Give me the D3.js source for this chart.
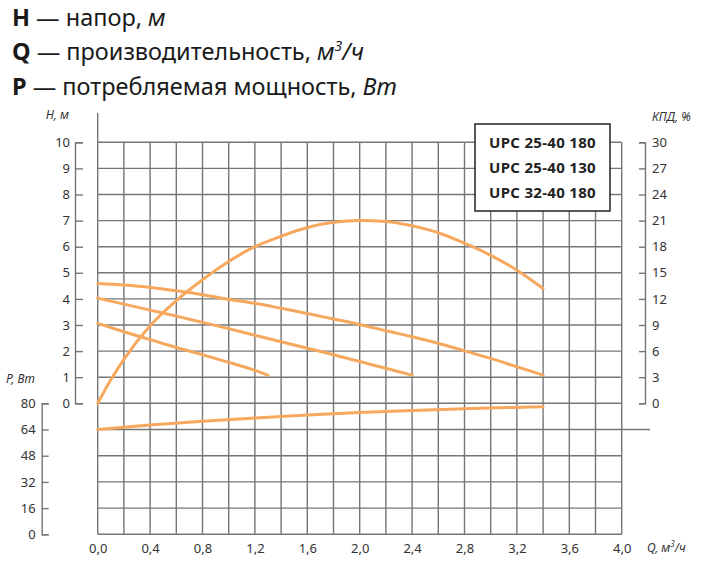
<!DOCTYPE html>
<html>
<head>
<meta charset="utf-8">
<script src="https://cdn.jsdelivr.net/npm/d3@7"></script>
<style>
  body { margin: 0; background: #fff; }
  svg { display: block; font-family: "Noto Sans", sans-serif; }
</style>
</head>
<body>
<script>
// --- data ---
var models = ["UPC 25-40 180", "UPC 25-40 130", "UPC 32-40 180"];

// head H, м  (three speeds)
var headQ1 = [0, 0.2, 0.4, 0.6, 0.8, 1.0, 1.2, 1.4, 1.6, 1.8, 2.0, 2.2, 2.4, 2.6, 2.8, 3.0, 3.2, 3.4];
var headH1 = [4.59, 4.53, 4.44, 4.31, 4.16, 3.98, 3.83, 3.64, 3.44, 3.23, 3.02, 2.78, 2.55, 2.30, 2.01, 1.72, 1.40, 1.08];
var headQ2 = [0, 0.2, 0.4, 0.6, 0.8, 1.0, 1.2, 1.4, 1.6, 1.8, 2.0, 2.2, 2.4];
var headH2 = [4.03, 3.80, 3.57, 3.34, 3.10, 2.86, 2.61, 2.36, 2.11, 1.86, 1.60, 1.34, 1.08];
var headQ3 = [0, 0.2, 0.4, 0.6, 0.8, 1.0, 1.2, 1.3];
var headH3 = [3.06, 2.74, 2.44, 2.14, 1.86, 1.57, 1.26, 1.08];

// efficiency КПД, %
var effQ = [0, 0.1, 0.2, 0.4, 0.6, 0.8, 1.0, 1.2, 1.4, 1.6, 1.8, 2.0, 2.2, 2.4, 2.6, 2.8, 3.0, 3.2, 3.4];
var effK = [0, 2.7, 5.05, 8.9, 11.8, 14.2, 16.3, 18.0, 19.2, 20.2, 20.8, 21.0, 20.9, 20.4, 19.6, 18.4, 17.0, 15.3, 13.2];

// power P, Вт
var powQ = [0, 0.4, 0.8, 1.2, 1.6, 2.0, 2.4, 2.8, 3.2, 3.4];
var powP = [64, 66.8, 69.0, 71.0, 72.9, 74.4, 75.6, 76.7, 77.5, 77.9];

var qTicks = d3.range(0, 4.01, 0.4);
var hTicks = d3.range(0, 11);
var pTicks = [0, 16, 32, 48, 64, 80];
var kTicks = [0, 3, 6, 9, 12, 15, 18, 21, 24, 27, 30];

var W = 706, H = 570;
var orange = "#f6a95e", grid = "#767676", ink = "#222";

var svg = d3.select("body").append("svg")
  .attr("width", W)
  .attr("height", H);

var x = d3.scaleLinear().domain([0, 4]).range([97.7, 621.7]);
var yH = d3.scaleLinear().domain([0, 10]).range([403.3, 142.3]);
var yP = d3.scaleLinear().domain([0, 80]).range([534.3, 403.3]);
var yK = d3.scaleLinear().domain([0, 30]).range([403.3, 142.3]);

var comma = d3.formatLocale({ decimal: ",", thousands: " ", grouping: [3], currency: ["", ""] });

// header
var head = svg.append("g").attr("fill", "#1a1a1a").style("font-size", "23.5px");
var l1 = head.append("text").attr("x", 12).attr("y", 25.5);
l1.append("tspan").attr("font-weight", "bold").text("H");
l1.append("tspan").text(" — напор, ");
l1.append("tspan").attr("font-style", "italic").text("м");

var l2 = head.append("text").attr("x", 12).attr("y", 60);
l2.append("tspan").attr("font-weight", "bold").text("Q");
l2.append("tspan").text(" — производительность, ");
l2.append("tspan").attr("font-style", "italic").text("м");
l2.append("tspan").attr("font-style", "italic").attr("dy", -9).style("font-size", "14px").text("3");
l2.append("tspan").attr("font-style", "italic").attr("dy", 9).text("/ч");

var l3 = head.append("text").attr("x", 12).attr("y", 95);
l3.append("tspan").attr("font-weight", "bold").text("P");
l3.append("tspan").text(" — потребляемая мощность, ");
l3.append("tspan").attr("font-style", "italic").text("Вт");

// grid
var gridG = svg.append("g").attr("stroke", grid).attr("stroke-width", 1.4);
var rowVals = hTicks.map(function (d) { return yH(d); })
  .concat(pTicks.slice(0, 5).map(function (d) { return yP(d); }));
gridG.selectAll("line.h").data(rowVals).enter().append("line")
  .attr("x1", x(0)).attr("x2", function (d, i) { return i === rowVals.length - 1 ? 650 : x(4); })
  .attr("y1", function (d) { return d; }).attr("y2", function (d) { return d; });
gridG.selectAll("line.v").data(d3.range(0, 21).map(function (i) { return i * 0.2; })).enter().append("line")
  .attr("x1", function (d) { return x(d); }).attr("x2", function (d) { return x(d); })
  .attr("y1", function (d, i) { return i === 0 ? 113 : yH(10); })
  .attr("y2", yP(0));

// axes
function styleAxis(g) {
  g.selectAll("path, line").attr("stroke", grid).attr("stroke-width", 1.4);
  g.selectAll("text").attr("fill", "#333").style("font-size", "13px").style("font-family", "Noto Sans, sans-serif");
}

svg.append("g").attr("transform", "translate(75,0)")
  .call(d3.axisLeft(yH).tickValues(hTicks).tickSize(-8).tickSizeOuter(-8).tickPadding(5).tickFormat(d3.format("d")))
  .call(styleAxis);

svg.append("g").attr("transform", "translate(41.7,0)")
  .call(d3.axisLeft(yP).tickValues(pTicks).tickSize(-7).tickSizeOuter(-7).tickPadding(6).tickFormat(d3.format("d")))
  .call(styleAxis);

svg.append("g").attr("transform", "translate(645,0)")
  .call(d3.axisRight(yK).tickValues(kTicks).tickSize(-6).tickSizeOuter(-6).tickPadding(7).tickFormat(d3.format("d")))
  .call(styleAxis);

var xAx = svg.append("g").attr("transform", "translate(0," + yP(0) + ")")
  .call(d3.axisBottom(x).tickValues(qTicks).tickSize(0).tickPadding(9).tickFormat(comma.format(".1f")))
  .call(styleAxis);
xAx.select(".domain").remove();

// axis titles
var ttl = svg.append("g").attr("fill", "#333").attr("font-style", "italic").style("font-size", "12px");
ttl.append("text").attr("x", 69).attr("y", 119).attr("text-anchor", "end").text("H, м");
ttl.append("text").attr("x", 6).attr("y", 383).text("P, Вт");
ttl.append("text").attr("x", 652).attr("y", 121).text("КПД, %");
var qt = ttl.append("text").attr("x", 647).attr("y", 552);
qt.append("tspan").text("Q, м");
qt.append("tspan").attr("dy", -5).style("font-size", "8px").text("3");
qt.append("tspan").attr("dy", 5).text("/ч");

// curves
var lineH = d3.line().x(function (d) { return x(d[0]); }).y(function (d) { return yH(d[1]); }).curve(d3.curveMonotoneX);
var lineK = d3.line().x(function (d) { return x(d[0]); }).y(function (d) { return yK(d[1]); }).curve(d3.curveMonotoneX);
var lineP = d3.line().x(function (d) { return x(d[0]); }).y(function (d) { return yP(d[1]); }).curve(d3.curveMonotoneX);

var curves = svg.append("g").attr("fill", "none").attr("stroke", orange)
  .attr("stroke-width", 3).attr("stroke-linecap", "round");
[[headQ1, headH1], [headQ2, headH2], [headQ3, headH3]].forEach(function (s) {
  curves.append("path").attr("d", lineH(d3.zip(s[0], s[1])));
});
curves.append("path").attr("d", lineK(d3.zip(effQ, effK)));
curves.append("path").attr("d", lineP(d3.zip(powQ, powP)));

// legend
var leg = svg.append("g");
leg.append("rect").attr("x", 475).attr("y", 124).attr("width", 135).attr("height", 87)
  .attr("fill", "#fff").attr("stroke", ink).attr("stroke-width", 1.5);
leg.selectAll("text").data(models).enter().append("text")
  .attr("x", 542.5).attr("y", function (d, i) { return 148 + i * 25; })
  .attr("text-anchor", "middle").attr("font-weight", "bold")
  .attr("fill", ink).style("font-size", "15px").style("letter-spacing", "0.3px")
  .text(function (d) { return d; });
</script>
</body>
</html>
